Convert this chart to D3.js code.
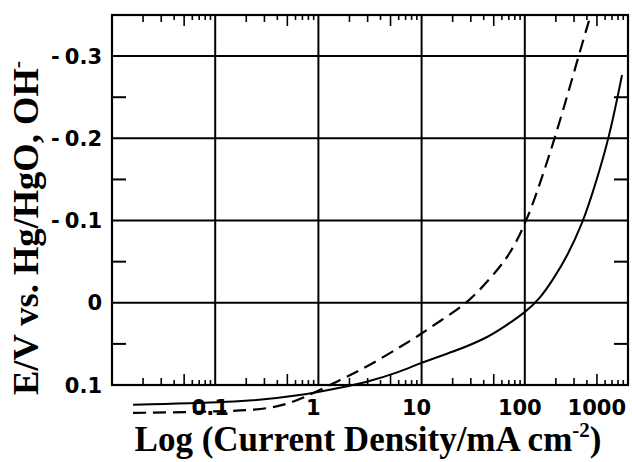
<!DOCTYPE html>
<html><head><meta charset="utf-8">
<script src="https://cdn.jsdelivr.net/npm/d3@7"></script>
<style>body{margin:0;background:#fff}svg{display:block}</style>
</head><body><svg id="c" width="632" height="462"></svg>
<script>
// Data
const xTickValues = [0.1, 1, 10, 100, 1000];
const xTickLabels = ["0.1", "1", "10", "100", "1000"];
const yTickValues = [-0.3, -0.2, -0.1, 0, 0.1];
const yTickLabels = ["-0.3", "-0.2", "-0.1", "0", "0.1"];
const yMinorValues = [-0.25, -0.15, -0.05, 0.05];
const solidX = [0.016, 0.186, 0.66, 1.73, 2.96, 6.18, 9.64, 20.1, 43, 67, 100, 140, 187, 256, 366, 458, 655, 875];
const solidE = [0.124, 0.121, 0.113, 0.1025, 0.0964, 0.0842, 0.0732, 0.0599, 0.043, 0.027, 0.012, -0.005, -0.028, -0.0557, -0.098, -0.135, -0.199, -0.277];
const dashX = [0.016, 0.186, 0.40, 0.66, 1.62, 2.96, 6.18, 9.64, 15.1, 25.2, 36.8, 57.5, 72, 90, 103, 117, 196, 330, 430];
const dashE = [0.134, 0.132, 0.127, 0.118, 0.094, 0.078, 0.0538, 0.039, 0.022, 0.004, -0.0155, -0.0435, -0.0605, -0.083, -0.1007, -0.116, -0.199, -0.299, -0.348];

const L = 112, R = 628, T = 15, B = 385;
const svg = d3.select("#c");
const x = d3.scaleLog().domain([0.01, 1000]).range([L, R]);
const y = d3.scaleLinear().domain([-0.35, 0.1]).range([T, B]);

// Gridlines
const g = svg.append("g").attr("stroke", "#000").attr("stroke-width", 2);
g.selectAll(".vg").data(xTickValues.filter(d => d < 1000)).join("line")
  .attr("x1", d => x(d)).attr("x2", d => x(d)).attr("y1", T).attr("y2", B);
g.selectAll(".hg").data(yTickValues.filter(d => d < 0.1)).join("line")
  .attr("y1", d => y(d)).attr("y2", d => y(d)).attr("x1", L).attr("x2", R);

// Minor x ticks (top and bottom)
const minor = [];
for (let e = -2; e < 3; e++) for (let m = 2; m <= 9; m++) minor.push({v: m * Math.pow(10, e), m});
const tlen = m => m === 5 ? 11 : (m <= 3 ? 7 : 5);
const mt = svg.append("g").attr("stroke", "#000").attr("stroke-width", 1.6);
mt.selectAll(".tb").data(minor).join("line")
  .attr("x1", d => x(d.v)).attr("x2", d => x(d.v)).attr("y1", B).attr("y2", d => B - tlen(d.m));
mt.selectAll(".tt").data(minor).join("line")
  .attr("x1", d => x(d.v)).attr("x2", d => x(d.v)).attr("y1", T).attr("y2", d => T + tlen(d.m));
// Minor y ticks left/right
mt.selectAll(".yl").data(yMinorValues).join("line")
  .attr("y1", d => y(d)).attr("y2", d => y(d)).attr("x1", L).attr("x2", L + 14).attr("stroke-width", 2);
mt.selectAll(".yr").data(yMinorValues).join("line")
  .attr("y1", d => y(d)).attr("y2", d => y(d)).attr("x1", R).attr("x2", R - 14).attr("stroke-width", 2);

// Border
svg.append("rect").attr("x", L).attr("y", T).attr("width", R - L).attr("height", B - T)
  .attr("fill", "none").attr("stroke", "#000").attr("stroke-width", 2.2);

// Curves
const line = d3.line().x(d => x(d[0])).y(d => y(d[1])).curve(d3.curveBasis);
svg.append("path").datum(solidX.map((v, i) => [v, solidE[i]]))
  .attr("d", line).attr("fill", "none").attr("stroke", "#000").attr("stroke-width", 2);
svg.append("path").datum(dashX.map((v, i) => [v, dashE[i]]))
  .attr("d", line).attr("fill", "none").attr("stroke", "#000").attr("stroke-width", 2.2)
  .attr("stroke-dasharray", "13,7");

// Tick labels
const tf = "'DejaVu Sans', sans-serif";
svg.selectAll(".xl").data(xTickValues).join("text")
  .attr("x", d => d === 1000 ? R - 2 : x(d) - 5)
  .attr("y", 415)
  .attr("text-anchor", d => d === 1000 ? "end" : "middle")
  .attr("font-family", tf).attr("font-weight", "bold").attr("font-size", 21)
  .text((d, i) => xTickLabels[i]);
const yl = svg.selectAll(".yl2").data(yTickValues).join("text")
  .attr("x", 102).attr("y", d => y(d)).attr("dy", "0.36em")
  .attr("text-anchor", "end")
  .attr("font-family", tf).attr("font-weight", "bold").attr("font-size", 21);
yl.each(function(d, i) {
  const s = yTickLabels[i];
  const t = d3.select(this);
  if (s.startsWith("-")) {
    t.append("tspan").text("-");
    t.append("tspan").attr("dx", 5).text(s.slice(1));
  } else {
    t.text(s);
  }
});

// Axis titles
const sf = "'Liberation Serif', 'Times New Roman', serif";
const xt = svg.append("text").attr("x", 368).attr("y", 451).attr("text-anchor", "middle")
  .attr("font-family", sf).attr("font-weight", "bold").attr("font-size", 35);
xt.append("tspan").text("Log (Current Density/mA cm");
xt.append("tspan").attr("font-size", 21).attr("dy", -14).text("-2");
xt.append("tspan").attr("dy", 14).text(")");

const yt = svg.append("text").attr("transform", "translate(38,228) rotate(-90)").attr("text-anchor", "middle")
  .attr("font-family", sf).attr("font-weight", "bold").attr("font-size", 36.5);
yt.append("tspan").text("E/V vs. Hg/HgO, OH");
yt.append("tspan").attr("font-size", 22).attr("dy", -14).text("-");
</script></body></html>
